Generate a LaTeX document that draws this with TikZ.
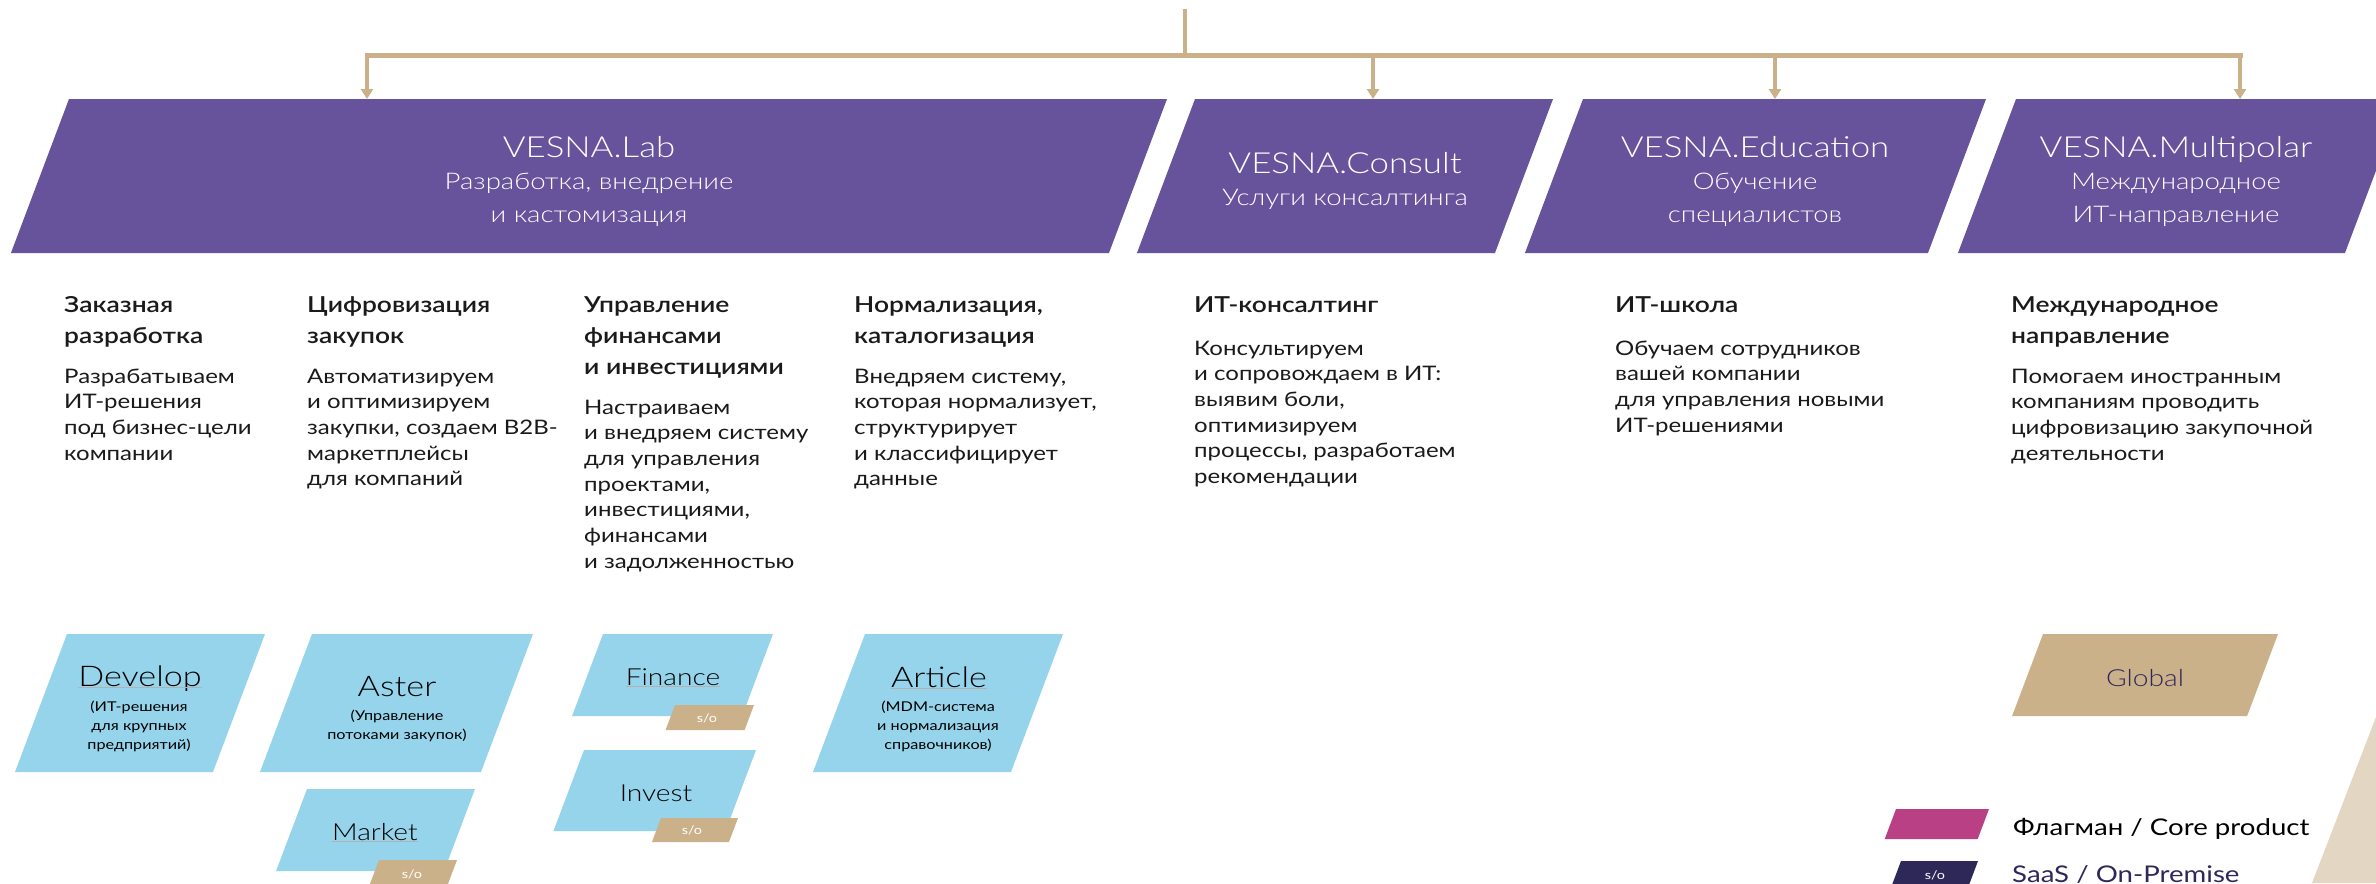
\documentclass[tikz,border=0pt]{standalone}
\usepackage{fontspec}
\setmainfont{Lato}[FakeStretch=1.2]
\newfontfamily\latomed{Lato Semibold}[FakeStretch=1.2]
\newfontfamily\latolight{Lato Light}[FakeStretch=1.2]
\usetikzlibrary{arrows.meta}
\definecolor{vpurple}{HTML}{67529C}
\definecolor{vblue}{HTML}{95D4EB}
\definecolor{vtan}{HTML}{CAB189}
\definecolor{vpink}{HTML}{BA4085}
\definecolor{vnavy}{HTML}{2E2859}
\definecolor{vbeige}{HTML}{E3D6C3}
\definecolor{vink}{HTML}{1A1A1A}
\newcommand{\vpgram}[5]{\fill[#1] (#2,#3) -- ++(#4,0) -- ++({-0.377*#5},#5) -- ++({-#4},0) -- cycle;}
\begin{document}
\begin{tikzpicture}[x=1pt,y=-1pt,
  bus/.style={draw=vtan, line width=5pt, line cap=rect},
  stem/.style={draw=vtan, line width=3.5pt},
  drop/.style={draw=vtan, line width=3.5pt, -{Triangle[length=10pt,width=12pt]}},
  ttl/.style={text=white, font=\latolight\fontsize{29}{33}\selectfont, anchor=base, inner sep=0pt},
  sub/.style={text=white, font=\latolight\fontsize{23}{33}\selectfont, anchor=north, align=center, inner sep=0pt},
  head/.style={text=vink, font=\latomed\fontsize{22}{31}\selectfont, anchor=north west, align=left, inner sep=0pt},
  body/.style={text=vink, font=\fontsize{20}{25.7}\selectfont, anchor=north west, align=left, inner sep=0pt},
  prod/.style={text=black, font=\latolight\fontsize{28.5}{30}\selectfont, anchor=base, inner sep=0pt},
  prodm/.style={text=black, font=\latolight\fontsize{23.5}{26}\selectfont, anchor=base, inner sep=0pt},
  prodsub/.style={text=black, font=\fontsize{13.5}{19}\selectfont, anchor=north, align=center, inner sep=0pt},
  tagtxt/.style={text=white, font=\fontsize{12}{14}\selectfont, inner sep=0pt},
  ulink/.style={draw=gray!60, line width=0.8pt},
  legtxt/.style={font=\fontsize{23}{26}\selectfont, anchor=base west, inner sep=0pt},
]
\useasboundingbox (0,0) rectangle (2376,883);
\clip (0,0) rectangle (2376,883);
\fill[white] (0,0) rectangle (2376,883);

% decorative beige corner
\fill[vbeige] (2376,717) -- (2312,883) -- (2376,883) -- cycle;

% purple headers
\vpgram{vpurple}{69}{99}{1098}{154}
\vpgram{vpurple}{1195}{99}{358}{154}
\vpgram{vpurple}{1583}{99}{403}{154}
\vpgram{vpurple}{2016}{99}{387}{154}

% connectors
\coordinate (root) at (1185,9);
\coordinate (busL) at (367,56);
\coordinate (busR) at (2240,56);
\coordinate (labin) at (367,99);
\coordinate (consultin) at (1373,99);
\coordinate (eduin) at (1775,99);
\coordinate (multin) at (2240,99);
\draw[bus] (busL) -- (busR);
\draw[stem] (root) -- (root |- busL);
\draw[drop] (busL) -- (labin);
\draw[drop] (consultin |- busL) -- (consultin);
\draw[drop] (eduin |- busL) -- (eduin);
\draw[drop] (busR) -- (multin);

% header texts
\node[ttl] (labt) at (589,157) {VESNA.Lab};
\node[sub] (labs) at (589,165.9) {\strut Разработка, внедрение\\и кастомизация};
\node[ttl] (cont) at (1345,173) {VESNA.Consult};
\node[sub] (cons) at (1345,181.9) {\strut Услуги консалтинга};
\node[ttl] (edut) at (1755,157) {VESNA.Education};
\node[sub] (edus) at (1755,165.9) {\strut Обучение\\специалистов};
\node[ttl] (mult) at (2176,157) {VESNA.Multipolar};
\node[sub] (muls) at (2176,165.9) {\strut Международное\\ИТ-направление};

% columns
\node[head] (h1) at (64,290.3) {\strut Заказная\\разработка};
\node[body] (b1) at (64,365) {\strut Разрабатываем\\ИТ-решения\\под бизнес-цели\\компании};
\node[head] (h2) at (307,290.3) {\strut Цифровизация\\закупок};
\node[body] (b2) at (307,365) {\strut Автоматизируем\\и оптимизируем\\закупки, создаем B2B-\\маркетплейсы\\для компаний};
\node[head] (h3) at (584,290.3) {\strut Управление\\финансами\\и инвестициями};
\node[body] (b3) at (584,396) {\strut Настраиваем\\и внедряем систему\\для управления\\проектами,\\инвестициями,\\финансами\\и задолженностью};
\node[head] (h4) at (854,290.3) {\strut Нормализация,\\каталогизация};
\node[body] (b4) at (854,365) {\strut Внедряем систему,\\которая нормализует,\\структурирует\\и классифицирует\\данные};
\node[head] (h5) at (1194,290.3) {\strut ИТ-консалтинг};
\node[body] (b5) at (1194,337) {\strut Консультируем\\и сопровождаем в ИТ:\\выявим боли,\\оптимизируем\\процессы, разработаем\\рекомендации};
\node[head] (h6) at (1615,290.3) {\strut ИТ-школа};
\node[body] (b6) at (1615,337) {\strut Обучаем сотрудников\\вашей компании\\для управления новыми\\ИТ-решениями};
\node[head] (h7) at (2011,290.3) {\strut Международное\\направление};
\node[body] (b7) at (2011,365) {\strut Помогаем иностранным\\компаниям проводить\\цифровизацию закупочной\\деятельности};

% product boxes
\vpgram{vblue}{67}{634}{198}{138}
\vpgram{vblue}{312}{634}{221}{138}
\vpgram{vblue}{307}{789}{168}{82}
\vpgram{vblue}{603}{634}{170}{82}
\vpgram{vblue}{584}{750}{172}{81}
\vpgram{vblue}{865}{634}{198}{138}
\vpgram{vtan}{2043}{634}{235}{82}
% s/o tags
\vpgram{vtan}{675}{705}{79}{25}
\vpgram{vtan}{661}{818}{77}{24}
\vpgram{vtan}{379}{860}{78}{30}

\node[prod] (dev) at (140,686) {Develop};
\draw[ulink] ([yshift=-1.5pt]dev.base west) -- ([yshift=-1.5pt]dev.base east);
\node[prodsub] (devs) at (139,697.7) {\strut (ИТ-решения\\для крупных\\предприятий)};
\node[prod] (ast) at (397,696) {Aster};
\node[prodsub] (asts) at (397,706.7) {\strut (Управление\\потоками закупок)};
\node[prodm] (mkt) at (375,840) {Market};
\draw[ulink] ([yshift=-1.5pt]mkt.base west) -- ([yshift=-1.5pt]mkt.base east);
\node[prodm] (fin) at (673,685) {Finance};
\draw[ulink] ([yshift=-1.5pt]fin.base west) -- ([yshift=-1.5pt]fin.base east);
\node[prodm] (inv) at (656,801) {Invest};
\node[prod] (art) at (939,687) {Article};
\draw[ulink] ([yshift=-1.5pt]art.base west) -- ([yshift=-1.5pt]art.base east);
\node[prodsub] (arts) at (938,697.7) {\strut (MDM-система\\и нормализация\\справочников)};
\node[prodm, text=vnavy] (glob) at (2145,686) {Global};

\node[tagtxt] (tagf) at (707,718) {s/o};
\node[tagtxt] (tagi) at (692,830) {s/o};
\node[tagtxt] (tagm) at (412,874) {s/o};

% legend
\vpgram{vpink}{1896}{809}{93}{30}
\vpgram{vnavy}{1901}{861}{77}{30}
\node[tagtxt] (tagl) at (1935,875) {s/o};
\node[legtxt, text=black] (leg1) at (2013,835) {Флагман / Core product};
\node[legtxt, text=vnavy] (leg2) at (2012,882) {SaaS / On-Premise};
\end{tikzpicture}
\end{document}
